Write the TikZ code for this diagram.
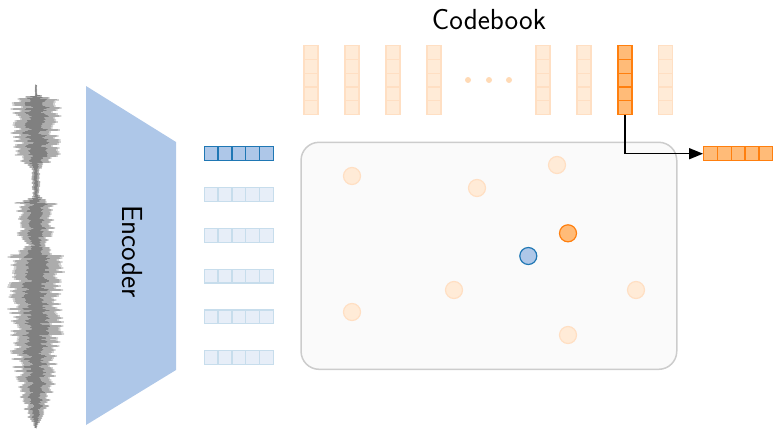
\documentclass[tikz,border=0pt]{standalone}
\usetikzlibrary{arrows.meta}

\definecolor{tabblue}{HTML}{1F77B4}
\definecolor{tablightblue}{HTML}{AEC7E8}
\definecolor{taborange}{HTML}{FF7F0E}
\definecolor{tablightorange}{HTML}{FFBB78}

\begin{document}
\begin{tikzpicture}[
    x=1pt, y=-1pt,
    title/.style={
        font=\sffamily\fontsize{29}{35}\selectfont,
        inner sep=0pt
    },
    enccell/.style={
        rectangle,
        draw=tabblue,
        fill=tablightblue,
        line width=1.3pt,
        minimum size=13.8pt,
        inner sep=0pt
    },
    encfade/.style={enccell, draw=tabblue!25, fill=tablightblue!30},
    cbcell/.style={enccell, draw=taborange, fill=tablightorange},
    cbfade/.style={enccell, draw=taborange!25, fill=tablightorange!30},
    latent/.style={
        rectangle,
        draw=gray!40,
        fill=gray!4,
        line width=1.5pt,
        rounded corners=18pt,
        minimum width=375.7pt,
        minimum height=227pt
    },
    pointz/.style={circle, draw=tabblue, fill=tablightblue, line width=1.2pt,
        minimum size=17pt, inner sep=0pt},
    pointq/.style={pointz, draw=taborange, fill=tablightorange},
    pointfade/.style={pointz, draw=taborange!25, fill=tablightorange!30},
    dot/.style={circle, fill=tablightorange!55, minimum size=6pt, inner sep=0pt},
    wave/.style={draw=gray, line width=0.9pt, line join=bevel},
    arrow/.style={-{Triangle[length=14pt,width=11pt]}, line width=1.5pt},
]
\useasboundingbox (0,0) rectangle (773,428);

% === WAVEFORM ===
\pgfmathsetseed{3}
\draw[wave] (36,85)
    \foreach \ya/\yb/\wa/\wb in {85/95/1/1, 95/100/1/26, 100/155/26/25,
        155/168/25/7, 168/197/5/4, 197/203/4/22, 203/235/22/21, 235/245/21/9,
        245/255/9/30, 255/340/30/28, 340/380/28/22, 380/410/22/13, 410/428/13/1} {
        \foreach \s in {\ya,...,\yb} {
            -- ({36+(\wa+(\wb-\wa)*(\s-\ya)/(\yb-\ya))*(0.55+0.45*rnd)*cos(180*mod(\s,2))}, \s)
        }
    };

% === ENCODER ===
\fill[tablightblue] (86,86) -- (176,142) -- (176,370) -- (86,425) -- cycle;
\node[title, rotate=-90] (enctext) at (132.5,251.5) {Encoder};

% Encoder outputs
\foreach \r/\st in {1/enccell, 2/encfade, 3/encfade, 4/encfade, 5/encfade, 6/encfade} {
    \foreach \c in {1,...,5} {
        \node[\st] (enc\r-\c) at ({197.4+13.8*\c}, {112.9+40.8*\r}) {};
    }
}

% === CODEBOOK ===
\node[title] (cbtitle) at (489,19.5) {Codebook};
\foreach \i/\x/\st in {1/311/cbfade, 2/352/cbfade, 3/393/cbfade, 4/434/cbfade,
                       5/543/cbfade, 6/584/cbfade, 7/625/cbcell, 8/665.5/cbfade} {
    \foreach \k in {1,...,5} {
        \node[\st] (cb\i-\k) at (\x, {38.9+13.72*\k}) {};
    }
}
\foreach \x [count=\n] in {468,489,509} {
    \node[dot] (dot\n) at (\x,80) {};
}

% === LATENT SPACE ===
\node[latent] (space) at (488.9,255.8) {};
\foreach \x/\y [count=\n] in {352/176, 477/188, 557/165, 454/290,
                              636/290, 352/312, 568/335} {
    \node[pointfade] (pt\n) at (\x,\y) {};
}
\node[pointq] (ptq) at (568,233.3) {};
\node[pointz] (ptz) at (528.3,256) {};

% === QUANTIZED OUTPUT ===
\foreach \c in {1,...,5} {
    \node[cbcell] (out-\c) at ({696.8+13.8*\c}, 153.7) {};
}
\draw[arrow] (cb7-5.south) |- (out-1.west);

\end{tikzpicture}
\end{document}
